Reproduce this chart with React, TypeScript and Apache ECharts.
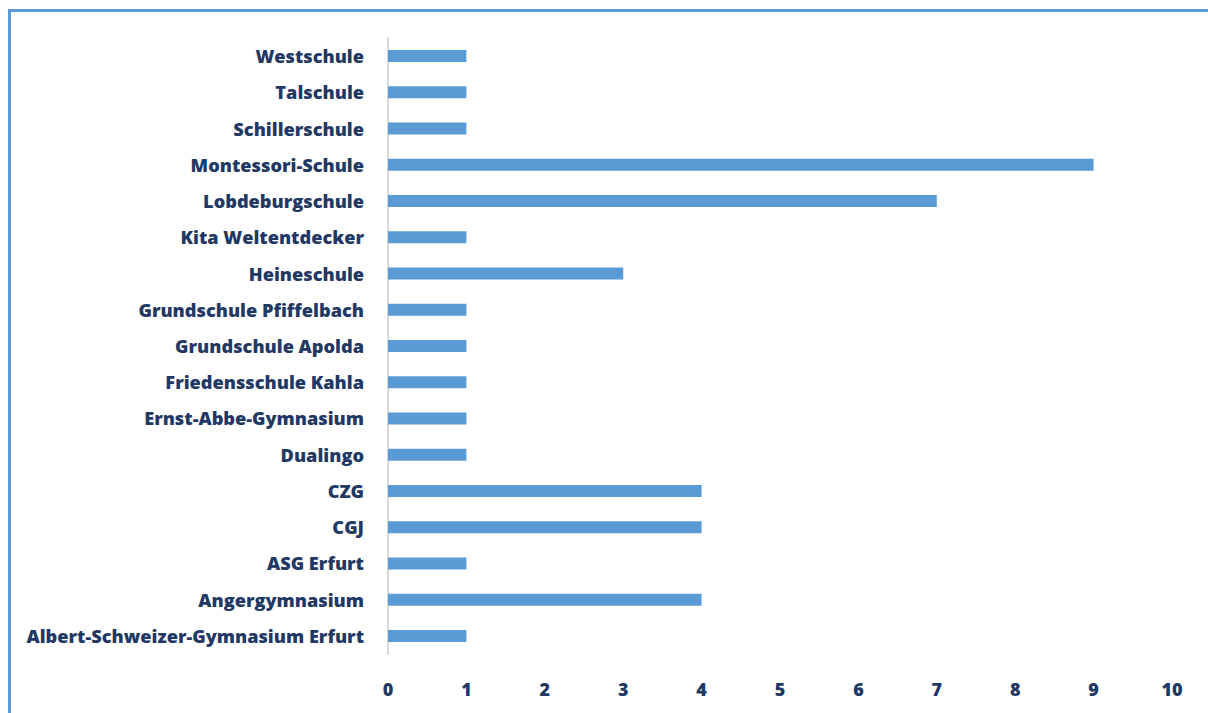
import React, { useEffect, useRef } from "react";
import * as echarts from "echarts";

const categories = [
  "Albert-Schweizer-Gymnasium Erfurt",
  "Angergymnasium",
  "ASG Erfurt",
  "CGJ",
  "CZG",
  "Dualingo",
  "Ernst-Abbe-Gymnasium",
  "Friedensschule Kahla",
  "Grundschule Apolda",
  "Grundschule Pfiffelbach",
  "Heineschule",
  "Kita Weltentdecker",
  "Lobdeburgschule",
  "Montessori-Schule",
  "Schillerschule",
  "Talschule",
  "Westschule",
];
const values = [1, 4, 1, 4, 4, 1, 1, 1, 1, 1, 3, 1, 7, 9, 1, 1, 1];

const FONT = "'Open Sans'";
const TEXT = "#1f3864";

export default function App() {
  const ref = useRef<HTMLDivElement>(null);
  useEffect(() => {
    if (!ref.current) return;
    const chart = echarts.init(ref.current, null, { renderer: "svg" });
    chart.setOption({
      animation: false,
      grid: { left: 388, right: 36, top: 38, bottom: 59, containLabel: false },
      xAxis: {
        type: "value",
        min: 0,
        max: 10,
        interval: 1,
        axisLine: { show: false },
        axisTick: { show: false },
        splitLine: { show: false },
        axisLabel: { color: TEXT, fontFamily: FONT, fontWeight: 800, fontSize: 18, margin: 26 },
      },
      yAxis: {
        type: "category",
        data: categories,
        axisLine: { show: true, lineStyle: { color: "#d9d9d9", width: 2 } },
        axisTick: { show: false },
        axisLabel: { color: TEXT, fontFamily: FONT, fontWeight: 800, fontSize: 18.2, margin: 24 },
      },
      series: [
        {
          type: "bar",
          data: values,
          barWidth: 12,
          itemStyle: { color: "#5b9bd5" },
        },
      ],
    });
    return () => chart.dispose();
  }, []);
  return (
    <div style={{ position: "fixed", left: 0, top: 0, width: 1208, height: 713, overflow: "hidden", background: "#fff" }}>
      <div
        style={{
          position: "absolute",
          left: 8,
          top: 9,
          width: 1400,
          height: 900,
          borderTop: "3px solid #5b9bd5",
          borderLeft: "3px solid #5b9bd5",
        }}
      />
      <div ref={ref} style={{ position: "absolute", left: 0, top: 0, width: 1208, height: 713 }} />
    </div>
  );
}
